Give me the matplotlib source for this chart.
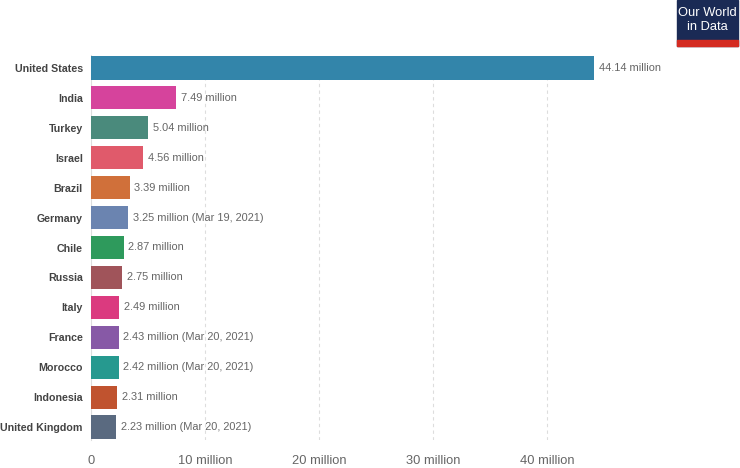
import matplotlib

matplotlib.use("Agg")
import matplotlib.pyplot as plt
from matplotlib.patches import Rectangle

countries = ["United States", "India", "Turkey", "Israel", "Brazil", "Germany",
             "Chile", "Russia", "Italy", "France", "Morocco", "Indonesia",
             "United Kingdom"]
values = [44.14, 7.49, 5.04, 4.56, 3.39, 3.25, 2.87, 2.75, 2.49, 2.43, 2.42,
          2.31, 2.23]
notes = ["", "", "", "", "", " (Mar 19, 2021)", "", "", "", " (Mar 20, 2021)",
         " (Mar 20, 2021)", "", " (Mar 20, 2021)"]
colors = ["#3385aa", "#d6439c", "#4a8a7c", "#e05a6b", "#d0703a", "#6b84b0",
          "#2e9a5c", "#a0545a", "#db3a7f", "#8759a6", "#26998f", "#c0532f",
          "#5a6a80"]
xticks = [0, 10, 20, 30, 40]
xticklabels = ["0", "10 million", "20 million", "30 million", "40 million"]

plt.rcParams["font.family"] = ["Liberation Sans", "DejaVu Sans"]
W, H = 740, 468
fig = plt.figure(figsize=(W / 100, H / 100), dpi=100, facecolor="white")

# axes placed in pixel terms: x=0 at px 91, 11.4 px per million
left, right, top, bottom = 91, 700, 55, 440
ax = fig.add_axes([left / W, 1 - bottom / H, (right - left) / W, (bottom - top) / H])
ax.set_xlim(0, (right - left) / 11.4)
n = len(countries)
ax.set_ylim(n - 0.565, -0.435)

ypos = list(range(n))
ax.barh(ypos, values, height=0.77, color=colors, zorder=3)

for y, v, note in zip(ypos, values, notes):
    ax.text(v + 0.4, y, "{:.2f} million{}".format(v, note), va="center",
            ha="left", fontsize=7.9, color="#666666", zorder=4)

ax.set_yticks(ypos)
ax.set_yticklabels(countries, fontsize=7.7, fontweight="bold", color="#444444")
ax.set_xticks(xticks)
ax.set_xticklabels(xticklabels, fontsize=9.3, color="#666666")
ax.tick_params(axis="both", length=0)
ax.tick_params(axis="y", pad=6)
ax.tick_params(axis="x", pad=11)

ax.grid(axis="x", color="#dddddd", linestyle=(0, (3, 3)), linewidth=0.8, zorder=0)
for s in ("top", "right", "bottom"):
    ax.spines[s].set_visible(False)
ax.spines["left"].set_color("#dddddd")
ax.spines["left"].set_zorder(2)

# Our World in Data logo
fig.patches.append(Rectangle((677 / W, 1 - 46 / H), 61 / W, 46 / H,
                             transform=fig.transFigure, color="#1a2a55"))
fig.patches.append(Rectangle((677 / W, 1 - 46 / H), 61 / W, 6 / H,
                             transform=fig.transFigure, color="#d42b21"))
fig.text(707.5 / W, 1 - 20 / H, "Our World\nin Data", ha="center", va="center",
         fontsize=9.3, color="white", linespacing=1.3)

fig.savefig("out.png", dpi=100, facecolor="white")
